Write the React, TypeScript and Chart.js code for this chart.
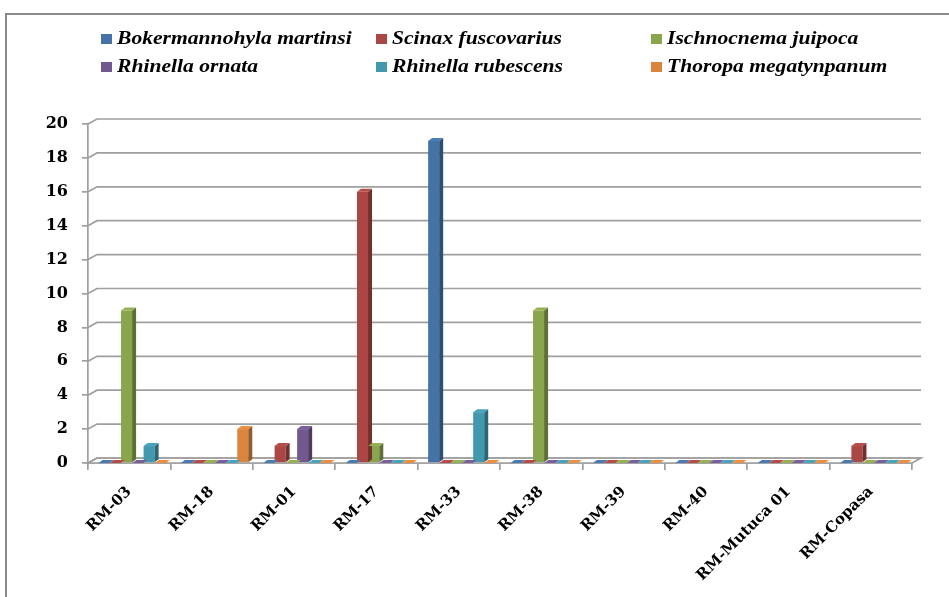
import React, { useEffect, useRef } from "react";
import { Chart, registerables } from "chart.js";
Chart.register(...registerables);

const categories = ["RM-03", "RM-18", "RM-01", "RM-17", "RM-33", "RM-38", "RM-39", "RM-40", "RM-Mutuca 01", "RM-Copasa"];
const seriesNames = ["Bokermannohyla martinsi", "Scinax fuscovarius", "Ischnocnema juipoca", "Rhinella ornata", "Rhinella rubescens", "Thoropa megatynpanum"];
const bokermannohylaMartinsi = [0, 0, 0, 0, 19, 0, 0, 0, 0, 0];
const scinaxFuscovarius = [0, 0, 1, 16, 0, 0, 0, 0, 0, 1];
const ischnocnemaJuipoca = [9, 0, 0, 1, 0, 9, 0, 0, 0, 0];
const rhinellaOrnata = [0, 0, 2, 0, 0, 0, 0, 0, 0, 0];
const rhinellaRubescens = [1, 0, 0, 0, 3, 0, 0, 0, 0, 0];
const thoropaMegatynpanum = [0, 2, 0, 0, 0, 0, 0, 0, 0, 0];
const seriesValues = [bokermannohylaMartinsi, scinaxFuscovarius, ischnocnemaJuipoca, rhinellaOrnata, rhinellaRubescens, thoropaMegatynpanum];
const yTicks = [0, 2, 4, 6, 8, 10, 12, 14, 16, 18, 20];
const colors = ["#4572A7", "#AA4643", "#89A54E", "#71588F", "#4198AF", "#DB843D"];

const GRID = "#9f9f9f";
const DX = 9;
const DY = 5;
const SHIFT = 3;

function shade(hex: string, f: number) {
  const n = parseInt(hex.slice(1), 16);
  const r = Math.min(255, Math.round(((n >> 16) & 255) * f));
  const g = Math.min(255, Math.round(((n >> 8) & 255) * f));
  const b = Math.min(255, Math.round((n & 255) * f));
  return `rgb(${r},${g},${b})`;
}

const threeD = {
  id: "threeD",
  beforeDatasetsDraw(chart: any) {
    const { ctx, chartArea, scales } = chart;
    const y = scales.y;
    ctx.save();
    ctx.strokeStyle = GRID;
    ctx.lineWidth = 1.7;
    const p0 = y.getPixelForValue(0);
    ctx.fillStyle = "#ffffff";
    ctx.beginPath();
    ctx.moveTo(chartArea.left, p0);
    ctx.lineTo(chartArea.right, p0);
    ctx.lineTo(chartArea.right + DX, p0 - DY);
    ctx.lineTo(chartArea.left + DX, p0 - DY);
    ctx.closePath();
    ctx.fill();
    ctx.stroke();
    yTicks.forEach((v) => {
      const py = y.getPixelForValue(v);
      ctx.beginPath();
      ctx.moveTo(chartArea.left, py);
      ctx.lineTo(chartArea.left + DX, py - DY);
      ctx.lineTo(chartArea.right + DX, py - DY);
      ctx.stroke();
    });
    ctx.restore();
    ctx.save();
    ctx.translate(SHIFT, 0);
  },
  afterDatasetsDraw(chart: any) {
    const { ctx } = chart;
    const d = 4;
    const e = 3;
    chart.data.datasets.forEach((ds: any, i: number) => {
      const meta = chart.getDatasetMeta(i);
      const col = colors[i];
      meta.data.forEach((el: any) => {
        const { x, y, base, width } = el.getProps(["x", "y", "base", "width"], true);
        const l = x - width / 2;
        const r = x + width / 2;
        ctx.fillStyle = shade(col, 0.68);
        ctx.beginPath();
        ctx.moveTo(r, y);
        ctx.lineTo(r + d, y - e);
        ctx.lineTo(r + d, base - e);
        ctx.lineTo(r, base);
        ctx.closePath();
        ctx.fill();
        ctx.fillStyle = shade(col, 1.08);
        ctx.beginPath();
        ctx.moveTo(l, y);
        ctx.lineTo(l + d, y - e);
        ctx.lineTo(r + d, y - e);
        ctx.lineTo(r, y);
        ctx.closePath();
        ctx.fill();
      });
    });
    ctx.restore();
  },
};

export default function App() {
  const ref = useRef<HTMLCanvasElement>(null);
  useEffect(() => {
    if (!ref.current) return;
    const family = '"DejaVu Serif", "Liberation Serif", serif';
    const chart = new Chart(ref.current, {
      type: "bar",
      data: {
        labels: categories,
        datasets: seriesNames.map((name, i) => ({
          label: name,
          data: seriesValues[i],
          backgroundColor: colors[i],
          borderWidth: 0,
          categoryPercentage: 0.82,
          barPercentage: 0.98,
        })),
      },
      plugins: [threeD],
      options: {
        responsive: false,
        animation: false,
        layout: { padding: { left: 0, right: 37, top: 124, bottom: 0 } },
        plugins: { legend: { display: false }, tooltip: { enabled: false } },
        scales: {
          x: {
            grid: { drawOnChartArea: false, drawTicks: true, tickLength: 7, color: GRID, lineWidth: 1.7 },
            border: { color: GRID, width: 1.7 },
            ticks: {
              autoSkip: false,
              maxRotation: 45,
              minRotation: 45,
              font: { family, size: 15, weight: "bold" },
              color: "#000",
              padding: 13,
              labelOffset: 0,
            },
            afterFit(s: any) {
              s.height = 134;
            },
          },
          y: {
            min: 0,
            max: 20,
            afterBuildTicks(s: any) {
              s.ticks = yTicks.map((v) => ({ value: v }));
            },
            grid: { drawOnChartArea: false, drawTicks: true, tickLength: 6, color: GRID, lineWidth: 1.7 },
            border: { color: GRID, width: 1.7 },
            ticks: { font: { family, size: 16, weight: "bold" }, color: "#000", padding: 14 },
            afterFit(s: any) {
              s.width = 88;
            },
          },
        },
      },
    });
    return () => chart.destroy();
  }, []);

  const boxX = [101, 376, 651];
  const rowY = [29, 57];
  return (
    <div style={{ position: "fixed", left: 0, top: 0, width: 949, height: 597, overflow: "hidden", background: "#fff" }}>
      <div style={{ position: "absolute", left: 5, top: 13, width: 1000, height: 700, border: "2px solid #8a8a8a" }} />
      <canvas ref={ref} width={949} height={597} style={{ position: "absolute", left: 0, top: 0, display: "block" }} />
      {seriesNames.map((name, i) => (
        <div
          key={name}
          style={{
            position: "absolute",
            left: boxX[i % 3],
            top: rowY[Math.floor(i / 3)],
            height: 18,
            whiteSpace: "nowrap",
            fontFamily: '"Liberation Serif", "Times New Roman", serif',
            fontWeight: "bold",
            fontStyle: "italic",
            fontSize: 18,
            lineHeight: "18px",
          }}
        >
          <span style={{ position: "absolute", left: 0, top: 5, width: 11, height: 10, background: colors[i] }} />
          <span style={{ position: "absolute", left: 16, top: 0, display: "inline-block", transform: "scaleX(1.2)", transformOrigin: "left center" }}>
            {name}
          </span>
        </div>
      ))}
    </div>
  );
}
